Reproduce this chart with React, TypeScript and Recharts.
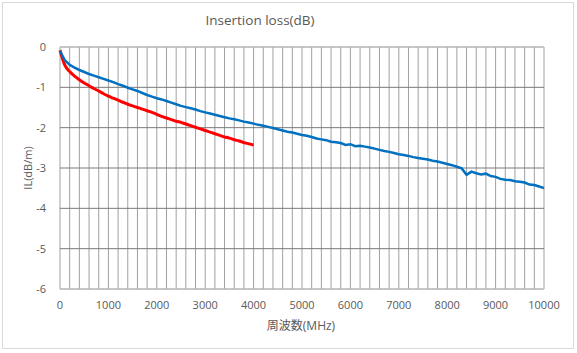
import React from 'react';
import { LineChart, Line, XAxis, YAxis, CartesianGrid, ReferenceLine } from 'recharts';

const freqStep = 100;
const blueValues = [
  -0.10, -0.33, -0.44, -0.51, -0.57, -0.62, -0.67, -0.71, -0.75, -0.79,
  -0.83, -0.87, -0.92, -0.96, -1.01, -1.05, -1.09, -1.14, -1.19, -1.23,
  -1.27, -1.30, -1.34, -1.38, -1.42, -1.46, -1.49, -1.52, -1.55, -1.59,
  -1.62, -1.65, -1.68, -1.71, -1.74, -1.77, -1.79, -1.82, -1.85, -1.87,
  -1.90, -1.93, -1.95, -1.98, -2.01, -2.04, -2.07, -2.10, -2.12, -2.15,
  -2.18, -2.20, -2.23, -2.27, -2.29, -2.31, -2.35, -2.36, -2.38, -2.43,
  -2.41, -2.46, -2.45, -2.47, -2.49, -2.52, -2.55, -2.58, -2.60, -2.63,
  -2.66, -2.68, -2.70, -2.73, -2.75, -2.77, -2.79, -2.82, -2.84, -2.87,
  -2.90, -2.93, -2.97, -3.01, -3.17, -3.09, -3.13, -3.16, -3.14, -3.20,
  -3.22, -3.27, -3.29, -3.30, -3.33, -3.34, -3.36, -3.41, -3.42, -3.46,
  -3.50,
];
const redValues = [
  -0.08, -0.45, -0.61, -0.72, -0.81, -0.89, -0.96, -1.03, -1.09, -1.16,
  -1.22, -1.27, -1.32, -1.37, -1.42, -1.46, -1.50, -1.54, -1.58, -1.62,
  -1.67, -1.72, -1.76, -1.80, -1.84, -1.87, -1.91, -1.95, -1.99, -2.03,
  -2.07, -2.11, -2.15, -2.19, -2.23, -2.26, -2.30, -2.33, -2.37, -2.40,
  -2.43,
];
const xLabelTicks = [0, 1000, 2000, 3000, 4000, 5000, 6000, 7000, 8000, 9000, 10000];
const xGridTicks = Array.from({ length: 51 }, (_, i) => i * 200);
const yTicks = [0, -1, -2, -3, -4, -5, -6];

const data = blueValues.map((b, i) => ({
  f: i * freqStep,
  blue: b,
  red: i < redValues.length ? redValues[i] : undefined,
}));

const FONT = "'Open Sans', 'Noto Sans CJK JP', sans-serif";

export default function App() {
  return (
    <div style={{ position: 'absolute', left: 0, top: 0, width: 577, height: 353, background: '#fff', fontFamily: FONT }}>
      <div style={{ position: 'absolute', left: 2, top: 2, width: 570, height: 345, border: '1px solid #d9d9d9' }} />
      <div style={{ position: 'absolute', left: 160, width: 200, top: 11, textAlign: 'center', fontSize: 13.5, color: '#595959' }}>
        Insertion loss(dB)
      </div>
      <div style={{ position: 'absolute', left: 200, width: 202, top: 316, textAlign: 'center', fontSize: 12, color: '#595959' }}>
        周波数(MHz)
      </div>
      <LineChart
        width={577}
        height={353}
        data={data}
        margin={{ top: 47, right: 33, bottom: 34, left: 10 }}
        style={{ position: 'absolute', left: 0, top: 0 }}
      >
        <CartesianGrid horizontal={false} vertical stroke="#a0a0a0" strokeWidth={1} />
        <CartesianGrid horizontal vertical={false} stroke="#7a7a7a" strokeWidth={1} />
        <XAxis
          dataKey="f"
          type="number"
          domain={[0, 10000]}
          ticks={xGridTicks}
          interval={0}
          tickFormatter={(v: number) => (xLabelTicks.includes(v) ? String(v) : '')}
          tickLine={false}
          axisLine={false}
          height={30}
          tick={{ fontSize: 11, fill: '#595959', fontFamily: FONT }}
          tickMargin={6}
        />
        <YAxis
          type="number"
          domain={[-6, 0]}
          ticks={yTicks}
          interval={0}
          tickLine={false}
          axisLine={false}
          width={50}
          tick={{ fontSize: 11, fill: '#595959', fontFamily: FONT }}
          tickMargin={8}
          label={{ value: 'IL(dB/m)', angle: -90, position: 'insideLeft', offset: 18, style: { fontSize: 11, fill: '#595959', fontFamily: FONT, textAnchor: 'middle' } }}
        />
        <ReferenceLine y={0} stroke="#d0d0d0" strokeWidth={1} />
        <ReferenceLine y={-6} stroke="#d0d0d0" strokeWidth={1} />
        <Line
          dataKey="red"
          stroke="#ff0000"
          strokeWidth={3}
          dot={false}
          type="monotone"
          isAnimationActive={false}
          connectNulls={false}
        />
        <Line
          dataKey="blue"
          stroke="#0070c0"
          strokeWidth={2.5}
          dot={false}
          type="linear"
          isAnimationActive={false}
        />
      </LineChart>
    </div>
  );
}
